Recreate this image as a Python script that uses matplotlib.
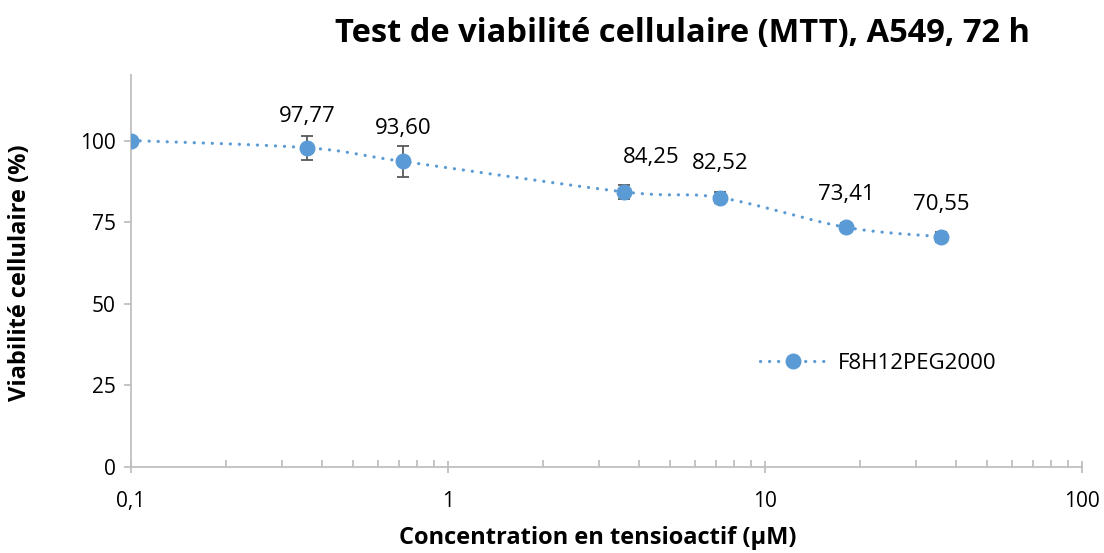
import matplotlib.pyplot as plt
import numpy as np
from matplotlib.ticker import FixedLocator, LogLocator, NullFormatter, FuncFormatter

plt.rcParams["font.family"] = ["Open Sans", "DejaVu Sans"]
plt.rcParams["lines.scale_dashes"] = False

# Concentrations (µM) and mean cell viability (%) with standard deviations
concentration = [0.1, 0.36, 0.72, 3.6, 7.2, 18, 36]
viability = [100.0, 97.77, 93.60, 84.25, 82.52, 73.41, 70.55]
std_dev = [0.0, 3.6, 4.7, 2.1, 1.8, 1.2, 1.5]
series_name = "F8H12PEG2000"

# Label offsets in points (dx, dy) relative to each point
label_offsets = [None, (0, 22.5), (0, 24), (19, 24.5), (0, 24.5), (0, 23.5), (0, 23.5)]

BLUE = "#5b9bd5"
AXIS_GREY = "#bfbfbf"


def smooth_curve(x, y, steps=40):
    """Catmull-Rom curve through the points, in log10(x) space."""
    lx = np.log10(x)
    ly = np.asarray(y, dtype=float)
    pts = np.column_stack([lx, ly])
    pts = np.vstack([pts[0], pts, pts[-1]])
    out = []
    for i in range(1, len(pts) - 2):
        p0, p1, p2, p3 = pts[i - 1], pts[i], pts[i + 1], pts[i + 2]
        c1 = p1 + (p2 - p0) / 6.0
        c2 = p2 - (p3 - p1) / 6.0
        t = np.linspace(0, 1, steps)[:, None]
        seg = ((1 - t) ** 3) * p1 + 3 * ((1 - t) ** 2) * t * c1 + 3 * (1 - t) * t ** 2 * c2 + t ** 3 * p2
        out.append(seg if i == 1 else seg[1:])
    out = np.vstack(out)
    return 10 ** out[:, 0], out[:, 1]


fig = plt.figure(figsize=(11.04, 5.53), dpi=100)
ax = fig.add_axes([0.1187, 0.1555, 0.8614, 0.7085])

sx, sy = smooth_curve(concentration, viability)
ax.plot(sx, sy, color=BLUE, linewidth=2.3, linestyle=(0, (0.1, 6.4)),
        dash_capstyle="round", zorder=2)
ax.errorbar(concentration, viability, yerr=std_dev, fmt="none",
            ecolor="#595959", elinewidth=1.3, capsize=4, capthick=1.3, zorder=3)
ax.plot(concentration, viability, linestyle="none", marker="o", markersize=10.5,
        color=BLUE, zorder=4)

# Legend proxy: dotted line with marker in the middle
ax.plot([], [], color=BLUE, linewidth=2.3, linestyle=(0, (0.1, 6.4)),
        dash_capstyle="round", marker="o", markersize=10.5, label=series_name)

for x, y, off in zip(concentration, viability, label_offsets):
    if off is None:
        continue
    ax.annotate(f"{y:.2f}".replace(".", ","), (x, y), xytext=off,
                textcoords="offset points", ha="center", va="center",
                fontsize=16, color="#000000")

ax.set_xscale("log")
ax.set_xlim(0.1, 100)
ax.set_ylim(0, 120)
ax.yaxis.set_major_locator(FixedLocator([0, 25, 50, 75, 100]))
ax.xaxis.set_major_locator(FixedLocator([0.1, 1, 10, 100]))
ax.xaxis.set_minor_locator(LogLocator(base=10, subs=np.arange(2, 10)))
ax.xaxis.set_minor_formatter(NullFormatter())
ax.xaxis.set_major_formatter(FuncFormatter(lambda v, p: f"{v:g}".replace(".", ",")))

for side in ("top", "right"):
    ax.spines[side].set_visible(False)
for side in ("left", "bottom"):
    ax.spines[side].set_color(AXIS_GREY)
    ax.spines[side].set_linewidth(1.3)

ax.tick_params(axis="x", which="major", direction="inout", length=9, width=1.3,
               color=AXIS_GREY, labelsize=15, pad=13)
ax.tick_params(axis="x", which="minor", direction="in", length=5, width=1.3,
               color=AXIS_GREY)
ax.tick_params(axis="y", which="major", direction="out", length=5, width=1.3,
               color=AXIS_GREY, labelsize=15, pad=6)

ax.set_xlabel("Concentration en tensioactif (µM)", fontsize=17, fontweight="bold",
              va="center", ha="center")
ax.xaxis.set_label_coords(0.491, -0.181)
ax.set_ylabel("Viabilité cellulaire (%)", fontsize=17, fontweight="bold",
              va="center", ha="center")
ax.yaxis.set_label_coords(-0.1167, 0.497)
fig.suptitle("Test de viabilité cellulaire (MTT), A549, 72 h", fontsize=23.5,
             fontweight="bold", x=0.618, y=0.94, va="center")

ax.legend(loc="center left", bbox_to_anchor=(0.64, 0.265), frameon=False,
          fontsize=16, handlelength=3.0, handletextpad=0.5, numpoints=1)

fig.savefig("out.png", dpi=100)
